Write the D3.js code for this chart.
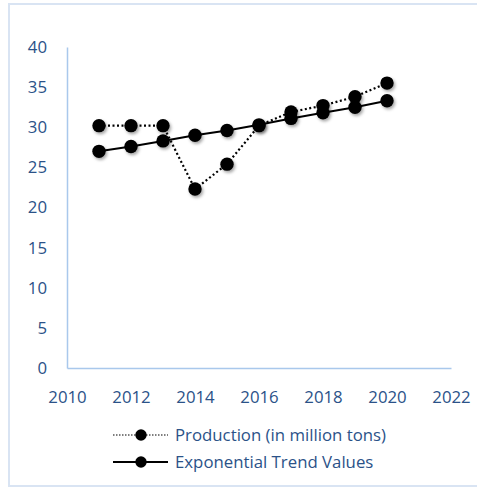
<!DOCTYPE html>
<html>
<head>
<meta charset="utf-8">
<script src="https://cdn.jsdelivr.net/npm/d3@7"></script>
<style>
  html, body { margin: 0; padding: 0; background: #fff; }
  svg { display: block; }
  text { font-family: "Open Sans", Lato, sans-serif; fill: #2b5288; }
</style>
</head>
<body>
<div id="chart"></div>
<script>
// Yearly production with its fitted exponential trend
const years = [2011, 2012, 2013, 2014, 2015, 2016, 2017, 2018, 2019, 2020];
const production = [30.2, 30.2, 30.2, 22.3, 25.4, 30.2, 31.9, 32.7, 33.8, 35.5];
const trend = [27.0, 27.6, 28.3, 29.0, 29.6, 30.3, 31.1, 31.8, 32.5, 33.3];
const xTicks = [2010, 2012, 2014, 2016, 2018, 2020, 2022];
const yTicks = [0, 5, 10, 15, 20, 25, 30, 35, 40];
const seriesNames = ["Production (in million tons)", "Exponential Trend Values"];

const W = 477, H = 489;
const FONT = "16.8px";
const svg = d3.select("#chart").append("svg").attr("width", W).attr("height", H);

// soft drop shadow under plotted markers
const defs = svg.append("defs");
const f = defs.append("filter").attr("id", "shadow")
  .attr("x", "-50%").attr("y", "-50%").attr("width", "200%").attr("height", "200%");
f.append("feDropShadow").attr("dx", 1.5).attr("dy", 2).attr("stdDeviation", 1.6)
  .attr("flood-color", "#000").attr("flood-opacity", 0.35);

// outer frame
svg.append("rect").attr("x", 9).attr("y", 4).attr("width", 480).attr("height", 482)
  .attr("fill", "none").attr("stroke", "#d9e4f3").attr("stroke-width", 2);

const x = d3.scaleLinear().domain([2010, 2022]).range([67, 451]);
const y = d3.scaleLinear().domain([0, 40]).range([368, 47]);

// axes
const xAxis = svg.append("g").attr("transform", `translate(0,${y(0)})`)
  .call(d3.axisBottom(x).tickValues(xTicks).tickFormat(d3.format("d")).tickSize(0).tickPadding(23));
xAxis.select(".domain").attr("stroke", "#a9c8ec").attr("stroke-width", 1.5);
xAxis.selectAll("text").style("font-size", FONT).attr("fill", "#2b5288");

const yAxis = svg.append("g").attr("transform", `translate(${x(2010)},0)`)
  .call(d3.axisLeft(y).tickValues(yTicks).tickSize(0).tickPadding(20));
yAxis.select(".domain").attr("stroke", "#a9c8ec").attr("stroke-width", 1.5);
yAxis.selectAll("text").style("font-size", FONT).attr("fill", "#2b5288");

const line = d3.line().x((d, i) => x(years[i])).y(d => y(d));

// trend line (solid)
svg.append("path").datum(trend).attr("d", line)
  .attr("fill", "none").attr("stroke", "#000").attr("stroke-width", 2);
// production line (dotted)
svg.append("path").datum(production).attr("d", line)
  .attr("fill", "none").attr("stroke", "#000").attr("stroke-width", 2.2)
  .attr("stroke-dasharray", "2,2.5");

const r = 6.7;
svg.append("g").attr("filter", "url(#shadow)").selectAll("circle")
  .data(trend).join("circle")
  .attr("cx", (d, i) => x(years[i])).attr("cy", d => y(d)).attr("r", r).attr("fill", "#000");
svg.append("g").attr("filter", "url(#shadow)").selectAll("circle")
  .data(production).join("circle")
  .attr("cx", (d, i) => x(years[i])).attr("cy", d => y(d)).attr("r", r).attr("fill", "#000");

// legend
const legend = svg.append("g");
const legendRows = [
  { name: seriesNames[0], dash: "1.5,1.5", width: 1.2, yy: 435 },
  { name: seriesNames[1], dash: null, width: 2, yy: 462 }
];
legendRows.forEach(row => {
  legend.append("line").attr("x1", 113).attr("x2", 168).attr("y1", row.yy).attr("y2", row.yy)
    .attr("stroke", "#000").attr("stroke-width", row.width)
    .attr("stroke-dasharray", row.dash);
  legend.append("circle").attr("cx", 141).attr("cy", row.yy).attr("r", 5.7).attr("fill", "#000");
  legend.append("text").attr("x", 175).attr("y", row.yy).attr("dy", "0.35em")
    .style("font-size", FONT).text(row.name);
});
</script>
</body>
</html>
